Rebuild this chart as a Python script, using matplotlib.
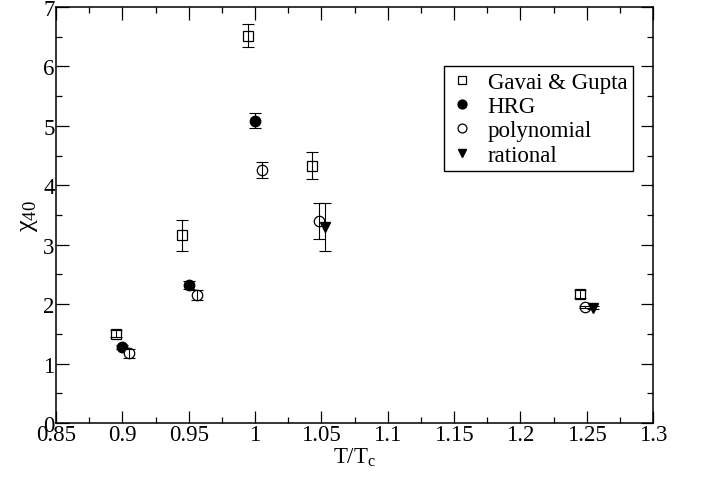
import matplotlib
matplotlib.use('Agg')
from matplotlib import pyplot as plt
from matplotlib.ticker import MultipleLocator, FormatStrFormatter

# data
gg_x = [0.895, 0.945, 0.995, 1.043, 1.245]
gg_y = [1.50, 3.16, 6.52, 4.33, 2.17]
gg_err = [0.06, 0.26, 0.20, 0.23, 0.06]

hrg_x = [0.900, 0.950, 1.000]
hrg_y = [1.28, 2.32, 5.09]
hrg_err = [0.04, 0.07, 0.13]

poly_x = [0.905, 0.956, 1.005, 1.048, 1.249]
poly_y = [1.17, 2.15, 4.26, 3.40, 1.95]
poly_err = [0.07, 0.08, 0.13, 0.30, 0.02]

rat_x = [1.053, 1.255]
rat_y = [3.30, 1.94]
rat_err = [0.41, 0.03]

plt.rcParams['font.family'] = ['Liberation Serif', 'DejaVu Serif']
plt.rcParams['mathtext.fontset'] = 'custom'
plt.rcParams['mathtext.rm'] = 'Liberation Serif'
plt.rcParams['mathtext.it'] = 'Liberation Serif:italic'

fig = plt.figure(figsize=(7.04, 4.81), dpi=100)
ax = fig.add_axes([56 / 704, 1 - 424 / 481, 597 / 704, 416 / 481])

# error bars go on top of the symbols, like in the original
eb = dict(fmt='none', ecolor='black', elinewidth=0.8, capsize=4.5,
          capthick=0.8, zorder=4)
ax.errorbar(gg_x, gg_y, yerr=gg_err, **eb)
ax.errorbar(hrg_x, hrg_y, yerr=hrg_err, **eb)
ax.errorbar(poly_x, poly_y, yerr=poly_err, **eb)
ax.errorbar(rat_x, rat_y, yerr=rat_err, **eb)

h1, = ax.plot(gg_x, gg_y, 's', ms=6.5, mfc='white', mec='black', mew=0.9,
              ls='none', label='Gavai & Gupta', zorder=2)
h2, = ax.plot(hrg_x, hrg_y, 'o', ms=7.5, mfc='black', mec='black',
              ls='none', label='HRG', zorder=2)
h3, = ax.plot(poly_x, poly_y, 'o', ms=7.5, mfc='white', mec='black', mew=0.9,
              ls='none', label='polynomial', zorder=3)
h4, = ax.plot(rat_x, rat_y, 'v', ms=7.5, mfc='black', mec='black',
              ls='none', label='rational', zorder=3)

ax.set_xlim(0.85, 1.3)
ax.set_ylim(0, 7)
ax.xaxis.set_major_locator(MultipleLocator(0.05))
ax.xaxis.set_minor_locator(MultipleLocator(0.025))
ax.yaxis.set_major_locator(MultipleLocator(1))
ax.yaxis.set_minor_locator(MultipleLocator(0.5))
ax.xaxis.set_major_formatter(FormatStrFormatter('%g'))
ax.yaxis.set_major_formatter(FormatStrFormatter('%g'))
ax.tick_params(which='both', direction='in', top=True, right=True,
               labelsize=16.5, width=0.9)
ax.tick_params(which='major', length=9, pad=1)
ax.tick_params(which='minor', length=4.5)
for s in ax.spines.values():
    s.set_linewidth(1.1)

ax.set_xlabel(r'$\mathrm{T/T_c}$', fontsize=16.5, labelpad=0)
ax.set_ylabel(r'$\mathrm{\chi_{40}}$', fontsize=19, labelpad=2)

leg = ax.legend(handles=[h1, h2, h3, h4], loc='upper left',
                bbox_to_anchor=(0.650, 0.858), borderaxespad=0,
                fontsize=16.5, fancybox=False, framealpha=1,
                edgecolor='black', handlelength=1.1, handletextpad=0.55,
                labelspacing=0.14, borderpad=0.25, markerscale=0.85)
leg.get_frame().set_linewidth(1.0)

plt.savefig('out.png', dpi=100)
